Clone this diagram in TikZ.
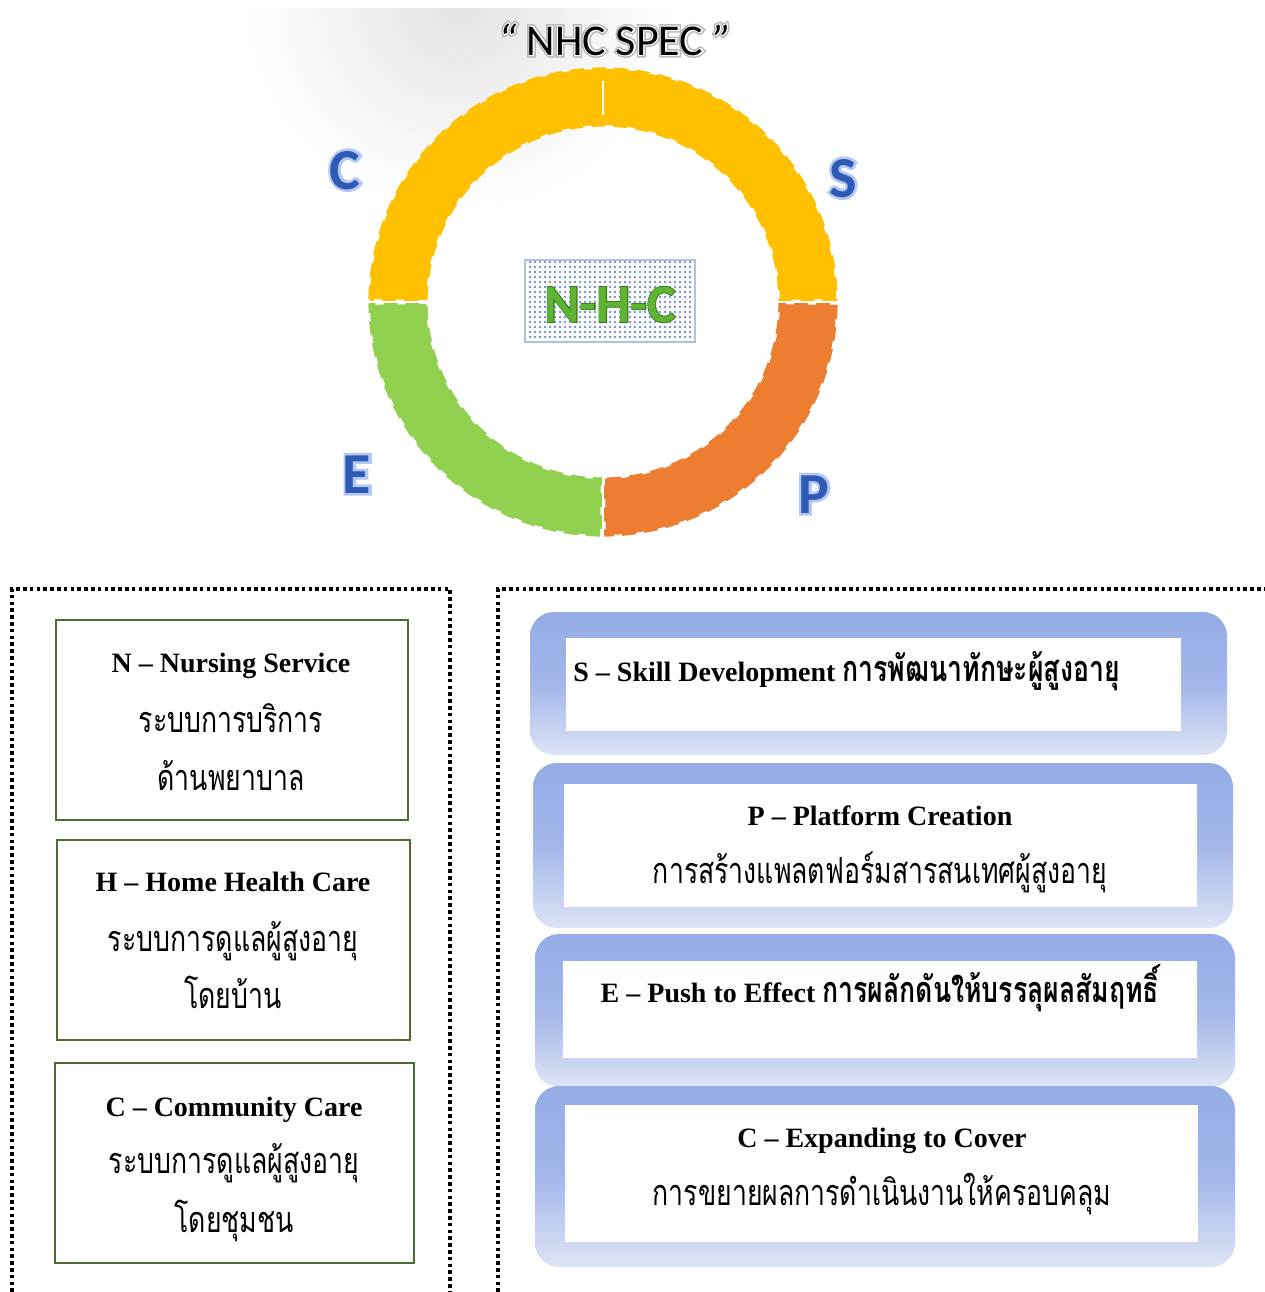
\documentclass[tikz,border=0pt]{standalone}
\usepackage{fontspec}
\setmainfont{Liberation Serif}
\newfontfamily\thaifont[Script=Thai,FakeStretch=0.74]{Loma}
\newfontfamily\calib{Carlito}
\newfontfamily\calibB{Carlito Bold}
% emboldened copies used as soft outlines behind the display letters
\newfontfamily\calibBhalo[FakeBold=9]{Carlito Bold}
\newfontfamily\calibBrim[FakeBold=3]{Carlito Bold}
\newfontfamily\calibglow[FakeBold=12]{Carlito}
\newfontfamily\calibrim[FakeBold=5]{Carlito}
\usetikzlibrary{patterns.meta}

\definecolor{ringyellow}{HTML}{FFC000}
\definecolor{ringorange}{HTML}{ED7D31}
\definecolor{ringgreen}{HTML}{92D050}
\definecolor{letterblue}{HTML}{2F5BB7}
\definecolor{glowblue}{HTML}{B4C8F2}
\definecolor{framegreen}{HTML}{4E6B30}
\definecolor{frametop}{HTML}{95ACE6}
\definecolor{framebot}{HTML}{DEE4F6}
\definecolor{nhcgreen}{HTML}{5DB531}
\definecolor{dotblue}{HTML}{4A72C8}

\newcommand{\latinsize}{\fontsize{14}{17}\selectfont\bfseries}
\newcommand{\thaisize}{\fontsize{18}{21}\selectfont\thaifont}
\newcommand{\titletext}{{\itshape“} NHC SPEC {\itshape”}}

\begin{document}
\begin{tikzpicture}[x=0.5pt,y=-0.5pt,
  seg/.style={fill=#1, draw=#1, line width=1.6pt, dash pattern=on 7pt off 4pt},
  gapline/.style={draw=white, line width=1.4pt},
  framedots/.style={line width=1.8pt, dash pattern=on 1.8pt off 1.6pt},
  greenbox/.style={draw=framegreen, line width=1.1pt, inner sep=0pt},
  bluepanel/.style={top color=frametop, bottom color=framebot,
                    middle color=frametop!82!framebot, rounded corners=12pt, inner sep=0pt},
  whitepane/.style={fill=white, inner sep=0pt},
  entext/.style={font=\latinsize, anchor=base, inner sep=0pt},
  thtext/.style={font=\thaisize, anchor=base, inner sep=0pt},
  mixtext/.style={font=\latinsize, inner sep=0pt},
  titlefont/.style={font=#1\fontsize{22}{26}\selectfont, anchor=base, inner sep=0pt},
  letter/.style={font=\calibB\fontsize{29}{32}\selectfont, text=letterblue, anchor=base, inner sep=0pt},
  letterhalo/.style={font=\calibBhalo\fontsize{29}{32}\selectfont, text=glowblue, anchor=base, inner sep=0pt}]
\useasboundingbox (0,0) rectangle (1265,1292);

% soft grey haze behind the heading
\begin{scope}
  \clip (0,8) rectangle (1265,300);
  \shade[inner color=black!11, outer color=white] (460,4) ellipse (215 and 205);
\end{scope}

% heading
\node[titlefont=\calibglow, text=black!28] (titleglow) at (615,55) {\titletext};
\node[titlefont=\calibrim, text=white] (titlerim) at (615,55) {\titletext};
\node[titlefont=\calib, text=black] (title) at (615,55) {\titletext};

% ring of four quarters
\begin{scope}[shift={(603,302)}]
  \def\Ro{233}\def\Ri{177}
  \path[seg=ringyellow] (180.7:\Ro) arc[start angle=180.7, end angle=359.3, radius=\Ro]
        -- (359.3:\Ri) arc[start angle=359.3, end angle=180.7, radius=\Ri] -- cycle;
  \path[seg=ringorange] (0.7:\Ro) arc[start angle=0.7, end angle=89.3, radius=\Ro]
        -- (89.3:\Ri) arc[start angle=89.3, end angle=0.7, radius=\Ri] -- cycle;
  \path[seg=ringgreen] (90.7:\Ro) arc[start angle=90.7, end angle=179.3, radius=\Ro]
        -- (179.3:\Ri) arc[start angle=179.3, end angle=90.7, radius=\Ri] -- cycle;
  \draw[gapline] (0:170) -- (0:242);
  \draw[gapline] (90:170) -- (90:242);
  \draw[gapline] (180:170) -- (180:242);
  \draw[gapline] (270:187) -- (270:221);
\end{scope}

% centre label
\node[draw=dotblue!45, line width=0.8pt, inner sep=0pt,
      pattern={Dots[distance=2.5pt, radius=0.6pt]}, pattern color=dotblue,
      minimum width=85pt, minimum height=41pt] (nhc) at (610,301) {};
\node[font=\calibBrim\fontsize{27}{30}\selectfont, text=nhcgreen!65!black, anchor=base, inner sep=0pt]
     (nhcrim) at (610,322) {N-H-C};
\node[font=\calibB\fontsize{27}{30}\selectfont, text=nhcgreen, anchor=base, inner sep=0pt]
     (nhctext) at (610,322) {N-H-C};

% letters round the ring
\node[letterhalo] (haloC) at (345,189) {C};
\node[letter] (letC) at (345,189) {C};
\node[letterhalo] (haloS) at (843,197) {S};
\node[letter] (letS) at (843,197) {S};
\node[letterhalo] (haloE) at (357,493) {E};
\node[letter] (letE) at (357,493) {E};
\node[letterhalo] (haloP) at (814,513) {P};
\node[letter] (letP) at (814,513) {P};

% dotted frames
\draw[framedots] (12,1292) -- (12,589) -- (450,589) -- (450,1292);
\draw[framedots] (498,1292) -- (498,589) -- (1264,589);

% left column
\node[greenbox, minimum width=176pt, minimum height=100pt] (nbox) at (232,720) {};
\node[entext] (n1) at (231,672) {N – Nursing Service};
\node[thtext] (n2) at (231,732) {ระบบการบริการ};
\node[thtext] (n3) at (231,790) {ด้านพยาบาล};

\node[greenbox, minimum width=176.5pt, minimum height=100pt] (hbox) at (233.5,940) {};
\node[entext] (h1) at (233,891) {H – Home Health Care};
\node[thtext] (h2) at (233,951) {ระบบการดูแลผู้สูงอายุ};
\node[thtext] (h3) at (233,1008) {โดยบ้าน};

\node[greenbox, minimum width=179.5pt, minimum height=100pt] (cbox) at (234.5,1163) {};
\node[entext] (c1) at (234,1116) {C – Community Care};
\node[thtext] (c2) at (234,1173) {ระบบการดูแลผู้สูงอายุ};
\node[thtext] (c3) at (234,1232) {โดยชุมชน};

% right column
\node[bluepanel, minimum width=348.5pt, minimum height=71.5pt] (spanel) at (878.5,683.5) {};
\node[whitepane, minimum width=307.5pt, minimum height=46.5pt] (spane) at (873.5,684.5) {};
\node[mixtext, anchor=base west] (s1) at (573,681) {S – Skill Development {\thaisize การพัฒนาทักษะผู้สูงอายุ}};

\node[bluepanel, minimum width=350pt, minimum height=82.5pt] (ppanel) at (883,845.5) {};
\node[whitepane, minimum width=316.5pt, minimum height=61.5pt] (ppane) at (880.5,845.5) {};
\node[entext] (p1) at (880,825) {P – Platform Creation};
\node[thtext] (p2) at (880,883) {การสร้างแพลตฟอร์มสารสนเทศผู้สูงอายุ};

\node[bluepanel, minimum width=350pt, minimum height=76.5pt] (epanel) at (885,1010.5) {};
\node[whitepane, minimum width=317pt, minimum height=48.5pt] (epane) at (880,1009.5) {};
\node[mixtext, anchor=base] (e1) at (880,1002) {E – Push to Effect {\thaisize การผลักดันให้บรรลุผลสัมฤทธิ์}};

\node[bluepanel, minimum width=350pt, minimum height=90.5pt] (cpanel) at (885,1176.5) {};
\node[whitepane, minimum width=316.5pt, minimum height=68.5pt] (cpane) at (881.5,1173.5) {};
\node[entext] (x1) at (882,1147) {C – Expanding to Cover};
\node[thtext] (x2) at (882,1205) {การขยายผลการดำเนินงานให้ครอบคลุม};
\end{tikzpicture}
\end{document}
